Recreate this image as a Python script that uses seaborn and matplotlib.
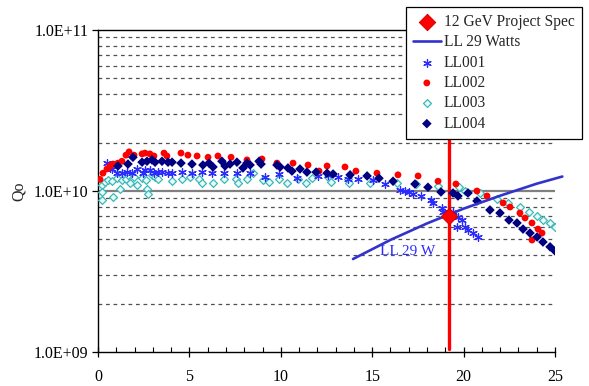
import numpy as np
import pandas as pd
import matplotlib
matplotlib.use("Agg")
import matplotlib.pyplot as plt
import matplotlib.ticker as mticker
import seaborn as sns

# values, Q0 in units of 1e10
ll001_x = [0.49, 0.66, 0.77, 1.04, 1.31, 1.59, 1.86, 2.13, 2.46, 2.57, 2.84, 3.06, 3.28, 3.50,
           3.83, 4.05, 4.60, 5.14, 5.69, 6.24, 6.89, 7.60, 8.32, 9.14, 9.90, 10.89, 12.04, 12.58,
           13.13, 13.68, 14.22, 15.04, 15.70, 16.52, 16.79, 17.01, 17.23, 17.67, 18.22, 18.33,
           18.82, 18.87, 19.42, 19.69, 19.91, 19.64, 20.08, 20.24, 20.51, 20.79]
ll001_q = [1.49, 1.39, 1.37, 1.29, 1.29, 1.31, 1.29, 1.37, 1.29, 1.35, 1.35, 1.29, 1.31, 1.31,
           1.29, 1.29, 1.31, 1.29, 1.31, 1.29, 1.29, 1.29, 1.29, 1.22, 1.275, 1.20, 1.24, 1.26,
           1.22, 1.185, 1.185, 1.17, 1.105, 1.01, 1.0, 0.986, 0.958, 0.931, 0.879, 0.843,
           0.784, 0.74, 0.74, 0.69, 0.66, 0.597, 0.597, 0.573, 0.548, 0.518]

ll002_x = [0.11, 0.27, 0.49, 0.66, 0.82, 1.09, 1.31, 1.53, 1.70, 1.97, 2.41, 2.57, 2.84, 3.06,
           3.61, 3.77, 4.54, 4.92, 5.42, 6.02, 6.56, 7.28, 8.15, 8.97, 9.79, 10.67, 11.49, 12.09,
           12.53, 13.51, 14.11, 15.26, 16.41, 17.51, 18.60, 19.58, 20.73, 21.28, 22.16, 22.54,
           23.08, 23.36, 23.74, 24.07, 24.29, 23.74]
ll002_q = [1.18, 1.29, 1.37, 1.43, 1.47, 1.49, 1.53, 1.67, 1.75, 1.67, 1.70, 1.72, 1.70, 1.65,
           1.72, 1.65, 1.72, 1.67, 1.65, 1.62, 1.65, 1.62, 1.56, 1.58, 1.49, 1.49, 1.45, 1.33,
           1.43, 1.41, 1.33, 1.29, 1.26, 1.24, 1.15, 1.105, 1.0, 0.931, 0.843, 0.795,
           0.73, 0.68, 0.633, 0.58, 0.548, 0.496]

ll003_x = [0.22, 0.22, 0.22, 0.38, 0.55, 0.77, 0.82, 1.04, 1.20, 1.31, 1.53, 1.64, 1.75, 1.97,
           2.13, 2.41, 2.63, 2.68, 2.74, 2.95, 3.12, 3.28, 4.05, 4.60, 5.03, 5.53, 5.69, 6.29,
           6.89, 7.55, 7.66, 8.15, 8.48, 9.03, 9.35, 9.90, 10.34, 10.94, 11.38, 11.71, 12.58,
           12.75, 13.68, 13.73, 14.88, 16.36, 17.40, 18.60, 19.75, 20.08, 20.90, 21.83, 22.43,
           23.08, 23.58, 24.02, 24.34, 24.73, 25.0]
ll003_q = [1.09, 0.986, 0.879, 1.14, 1.17, 1.155, 0.918, 1.20, 1.03, 1.17, 1.185, 1.26, 1.12, 1.22,
           1.09, 1.20, 1.17, 1.03, 0.958, 1.26, 1.22, 1.185, 1.155, 1.185, 1.22, 1.185, 1.12, 1.12,
           1.185, 1.185, 1.12, 1.185, 1.29, 1.17, 1.14, 1.185, 1.12, 1.185, 1.12, 1.20, 1.22,
           1.14, 1.185, 1.12, 1.12, 1.12, 1.105, 1.07, 1.055, 1.0, 0.972, 0.892, 0.843,
           0.795, 0.74, 0.70, 0.66, 0.633, 0.597]

ll004_x = [1.09, 1.64, 1.91, 2.41, 2.68, 2.95, 3.12, 3.50, 3.83, 4.05, 4.54, 5.14, 5.74, 6.07,
           6.29, 6.78, 6.95, 7.22, 7.60, 7.93, 8.15, 8.32, 8.81, 8.92, 9.79, 9.96, 10.39, 10.61,
           11.05, 11.43, 11.93, 12.53, 12.86, 13.79, 14.72, 15.37, 16.14, 17.34, 18.05, 18.76,
           19.42, 19.69, 20.24, 20.73, 21.44, 21.99, 22.48, 22.92, 23.25, 23.63, 24.02, 24.34,
           24.73, 25.0]
ll004_q = [1.43, 1.47, 1.62, 1.51, 1.53, 1.56, 1.51, 1.53, 1.51, 1.51, 1.49, 1.47, 1.45, 1.49,
           1.41, 1.53, 1.43, 1.47, 1.51, 1.39, 1.49, 1.45, 1.53, 1.47, 1.45, 1.41, 1.39, 1.33,
           1.37, 1.31, 1.31, 1.29, 1.275, 1.26, 1.24, 1.20, 1.15, 1.105, 1.055, 0.986,
           0.972, 0.931, 0.972, 0.867, 0.762, 0.73, 0.66, 0.633, 0.58, 0.548, 0.518, 0.482,
           0.45, 0.424]

# 29 W constant-loss curve
ll29_x = [13.95, 16.0, 18.0, 20.0, 22.0, 24.0, 25.4]
ll29_q = [0.378, 0.497, 0.629, 0.777, 0.935, 1.11, 1.23]

# 12 GeV spec point and its marker line
spec_x = [19.2]
spec_q = [0.70]
spec_line_x = [19.2, 19.2]
spec_line_q = [2.07, 0.104]

SCALE = 1e10


def frame(x, q):
    return pd.DataFrame({"x": x, "q": np.array(q) * SCALE})


sns.set_style("white")
plt.rcParams["font.family"] = ["Liberation Serif", "DejaVu Serif"]
plt.rcParams["font.size"] = 11

fig = plt.figure(figsize=(5.89, 3.86), dpi=100)
ax = fig.add_axes([0.1664, 0.0881, 0.7759, 0.8342])

# red spec line sits under the points
sns.lineplot(data=frame(spec_line_x, spec_line_q), x="x", y="q", ax=ax, color="#ff0000",
             lw=2.4, sort=False, estimator=None, zorder=2, legend=False)

sns.scatterplot(data=frame(ll003_x, ll003_q), x="x", y="q", ax=ax, marker="D", s=16,
                color="#e6fbfb", edgecolor="#3fb7b7", linewidth=0.9, label="LL003", zorder=3)
sns.scatterplot(data=frame(ll001_x, ll001_q), x="x", y="q", ax=ax, marker=(6, 2, 0), s=30,
                color="#2b2bff", linewidth=0.9, label="LL001", zorder=4)
sns.scatterplot(data=frame(ll002_x, ll002_q), x="x", y="q", ax=ax, marker="o", s=24,
                color="#ff0000", edgecolor="none", label="LL002", zorder=4)
sns.scatterplot(data=frame(ll004_x, ll004_q), x="x", y="q", ax=ax, marker="D", s=24,
                color="#000080", edgecolor="none", label="LL004", zorder=5)

sns.lineplot(data=frame(ll29_x, ll29_q), x="x", y="q", ax=ax, color="#3333cc", lw=1.9,
             estimator=None, label="LL 29 Watts", zorder=6, clip_on=False)
sns.scatterplot(data=frame(spec_x, spec_q), x="x", y="q", ax=ax, marker="D", s=70,
                color="#ff0000", edgecolor="#cc0000", label="12 GeV Project Spec", zorder=7)

ax.text(16.95, 0.418 * SCALE, "LL 29 W", color="#2b2bff", ha="center", va="center",
        fontsize=11, zorder=8)

ax.set_yscale("log")
ax.set_xlim(0, 25)
ax.set_ylim(1e9, 1e11)

ax.xaxis.set_major_locator(mticker.MultipleLocator(5))
ax.xaxis.set_minor_locator(mticker.MultipleLocator(1))
ax.xaxis.set_major_formatter(mticker.FormatStrFormatter("%d"))
ax.yaxis.set_major_locator(mticker.FixedLocator([1e9, 1e10, 1e11]))
ax.yaxis.set_minor_locator(mticker.LogLocator(base=10, subs=np.arange(2, 10)))
ax.yaxis.set_major_formatter(mticker.FuncFormatter(lambda v, p: f"{v:.1E}"))
ax.yaxis.set_minor_formatter(mticker.NullFormatter())

ax.tick_params(axis="x", which="major", direction="inout", length=7, width=0.9, pad=9,
               colors="black", labelsize=11.5)
ax.tick_params(axis="x", which="minor", direction="in", length=3.5, width=0.8, colors="black")
ax.tick_params(axis="y", which="major", direction="out", length=4, width=0.9, pad=3,
               labelsize=11.5, colors="black")
ax.tick_params(axis="y", which="minor", length=0)
ax.tick_params(bottom=True, left=True, which="both")

ax.grid(False)
ax.yaxis.grid(True, which="minor", color="#505050", linestyle=(0, (3, 3)), lw=0.9)
ax.axhline(1e10, color="#808080", lw=1.6, zorder=1)

for side in ["left", "bottom", "top"]:
    ax.spines[side].set_color("black")
    ax.spines[side].set_linewidth(1.0)
ax.spines["right"].set_visible(False)

ax.set_xlabel("")
ax.set_ylabel("Qo", labelpad=5, fontsize=11.5)

handles, labels = ax.get_legend_handles_labels()
order = ["12 GeV Project Spec", "LL 29 Watts", "LL001", "LL002", "LL003", "LL004"]
lookup = dict(zip(labels, handles))
ax.get_legend().remove()
leg = fig.legend([lookup[k] for k in order], order, loc="upper left",
                 bbox_to_anchor=(0.689, 0.982), borderaxespad=0, frameon=True,
                 fancybox=False, edgecolor="black", framealpha=1, fontsize=11.2,
                 labelspacing=0.28, handlelength=1.8, borderpad=0.45,
                 handletextpad=0.2)
leg.get_frame().set_linewidth(0.9)

fig.savefig("out.png", dpi=100, facecolor="white")
